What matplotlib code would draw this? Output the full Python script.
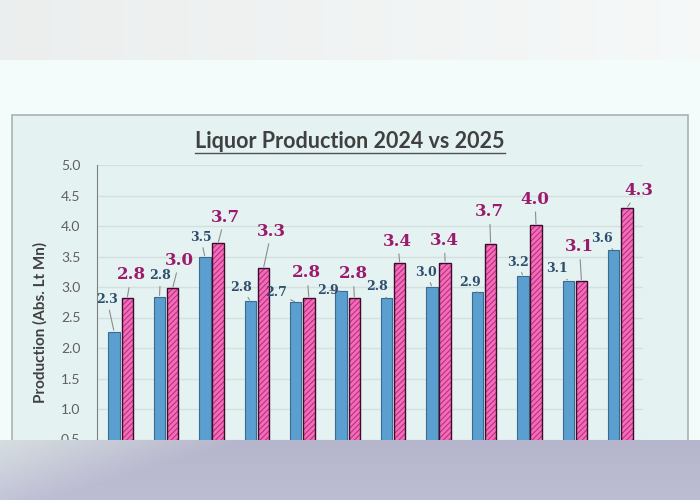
#!/usr/bin/env python3
"""Liquor production 2024 vs 2025, grouped bars with value labels."""

import matplotlib

matplotlib.use("Agg")
import matplotlib.pyplot as plt
import numpy as np
from matplotlib.lines import Line2D
from matplotlib.patches import Rectangle

# data
prod_2024 = [2.27, 2.84, 3.49, 2.77, 2.75, 2.93, 2.82, 3.00, 2.91, 3.18, 3.10, 3.60]
prod_2025 = [2.82, 2.98, 3.72, 3.31, 2.82, 2.82, 3.39, 3.40, 3.71, 4.01, 3.10, 4.30]
labels_2024 = ["2.3", "2.8", "3.5", "2.8", "2.7", "2.9", "2.8", "3.0", "2.9", "3.2", "3.1", "3.6"]
labels_2025 = ["2.8", "3.0", "3.7", "3.3", "2.8", "2.8", "3.4", "3.4", "3.7", "4.0", "3.1", "4.3"]
y_ticks = [0.0, 0.5, 1.0, 1.5, 2.0, 2.5, 3.0, 3.5, 4.0, 4.5, 5.0]

# label placement (pixel offsets from bar top) - layout only
off_2024 = [(-7, 32), (1, 21), (-4, 20), (-9, 14), (-20, 10), (-13, 1),
            (-10, 11), (-6, 15), (-7, 10), (-5, 14), (-11, 12), (-12, 12)]
off_2025 = [(4, 23), (7, 28), (7, 26), (8, 37), (-2, 25), (-1, 24),
            (-2, 22), (-1, 22), (-1, 32), (-1, 26), (-2, 34), (12, 17)]

BLUE = "#5a9fd0"
BLUE_EDGE = "#3b6b8f"
PINK = "#f36cb8"
PINK_HATCH = "#b32a7a"
PINK_EDGE = "#3c0c2c"

fig = plt.figure(figsize=(7, 5), dpi=100, facecolor="#f4fbfb")

# screenshot surroundings
top = fig.add_axes([0, 0.88, 1, 0.12], zorder=-3)
top.axis("off")
top.imshow(np.linspace(0.925, 0.965, 200)[None, :, None] * np.array([1.0, 1.01, 1.01]),
           aspect="auto", extent=[0, 1, 0, 1])
fig.patches.append(Rectangle((12 / 700, -0.05), 676 / 700, 0.82, transform=fig.transFigure,
                             facecolor="#e4f2f2", edgecolor="#a9b2b2", linewidth=1.2, zorder=-2))

ax = fig.add_axes([97 / 700, 0.06, 546 / 700, 0.61], zorder=1)
ax.set_facecolor("none")

x = np.arange(len(prod_2024), dtype=float)
w = 0.25
ax.bar(x - 0.145, prod_2024, width=w, color=BLUE, edgecolor=BLUE_EDGE, linewidth=0.8, zorder=3)
plt.rcParams["hatch.linewidth"] = 0.7
ax.bar(x + 0.145, prod_2025, width=w, color=PINK, edgecolor=PINK_HATCH, linewidth=0,
       hatch="//////", zorder=3)
ax.bar(x + 0.145, prod_2025, width=w, fill=False, edgecolor=PINK_EDGE, linewidth=1.0, zorder=4)

line_style = dict(arrowstyle="-", color="#8c8c8c", lw=0.8, shrinkA=1, shrinkB=1)
for i in range(len(x)):
    ax.annotate(labels_2024[i], xy=(x[i] - 0.145, prod_2024[i]), xytext=off_2024[i],
                textcoords="offset pixels", ha="center", va="center",
                fontsize=9, fontweight="bold", family="DejaVu Serif", color="#2f4e6e",
                arrowprops=line_style, zorder=5)
    ax.annotate(labels_2025[i], xy=(x[i] + 0.145, prod_2025[i]), xytext=off_2025[i],
                textcoords="offset pixels", ha="center", va="center",
                fontsize=12, fontweight="bold", family="DejaVu Serif", color="#9c1a6c",
                arrowprops=line_style, zorder=5)

ax.set_xlim(-0.52, 11.5)
ax.set_ylim(0, 5)
ax.set_yticks(y_ticks, [f"{t:.1f}" for t in y_ticks])
ax.set_xticks([])
ax.tick_params(axis="y", length=0, pad=12, labelsize=10, labelcolor="#5f5f5f")
for lbl in ax.get_yticklabels():
    lbl.set_family("Lato")
ax.grid(True, axis="y", color="#d6dfdf", linewidth=1.0, zorder=0)
for side in ["top", "right", "bottom"]:
    ax.spines[side].set_visible(False)
ax.spines["left"].set_color("#808080")
ax.set_ylabel("Production (Abs. Lt Mn)", fontsize=11, fontweight="bold", color="#404040",
              family="Lato")
ax.yaxis.set_label_coords(-0.09, 0.485)

title = fig.text(0.5, 1 - 142 / 500, "Liquor Production 2024 vs 2025", ha="center", va="center",
                 fontsize=15.5, fontweight="bold", color="#404040", family="Lato")
fig.canvas.draw()
bb = title.get_window_extent().transformed(fig.transFigure.inverted())
fig.add_artist(Line2D([bb.x0, bb.x1], [bb.y0 - 0.002, bb.y0 - 0.002], transform=fig.transFigure,
                      color="#505050", linewidth=1.0))

# bottom overlay band of the screenshot
band = fig.add_axes([0, 0, 1, 60 / 500], zorder=10)
band.axis("off")
gx = np.linspace(0, 1, 350)
gy = np.linspace(0, 1, 30)[:, None]
left_c = np.array([0.87, 0.90, 0.91])
right_c = np.array([0.74, 0.74, 0.83])
mix = np.clip(gx / 0.35 + gy * 0.8, 0, 1)[..., None]
img = left_c * (1 - mix) + right_c * mix
img = img - (1 - gy[..., None]) * 0.03
band.imshow(np.clip(img, 0, 1), aspect="auto", extent=[0, 1, 0, 1])
band.set_xlim(0, 1)
band.set_ylim(0, 1)

fig.savefig("out.png", dpi=100, facecolor=fig.get_facecolor())
